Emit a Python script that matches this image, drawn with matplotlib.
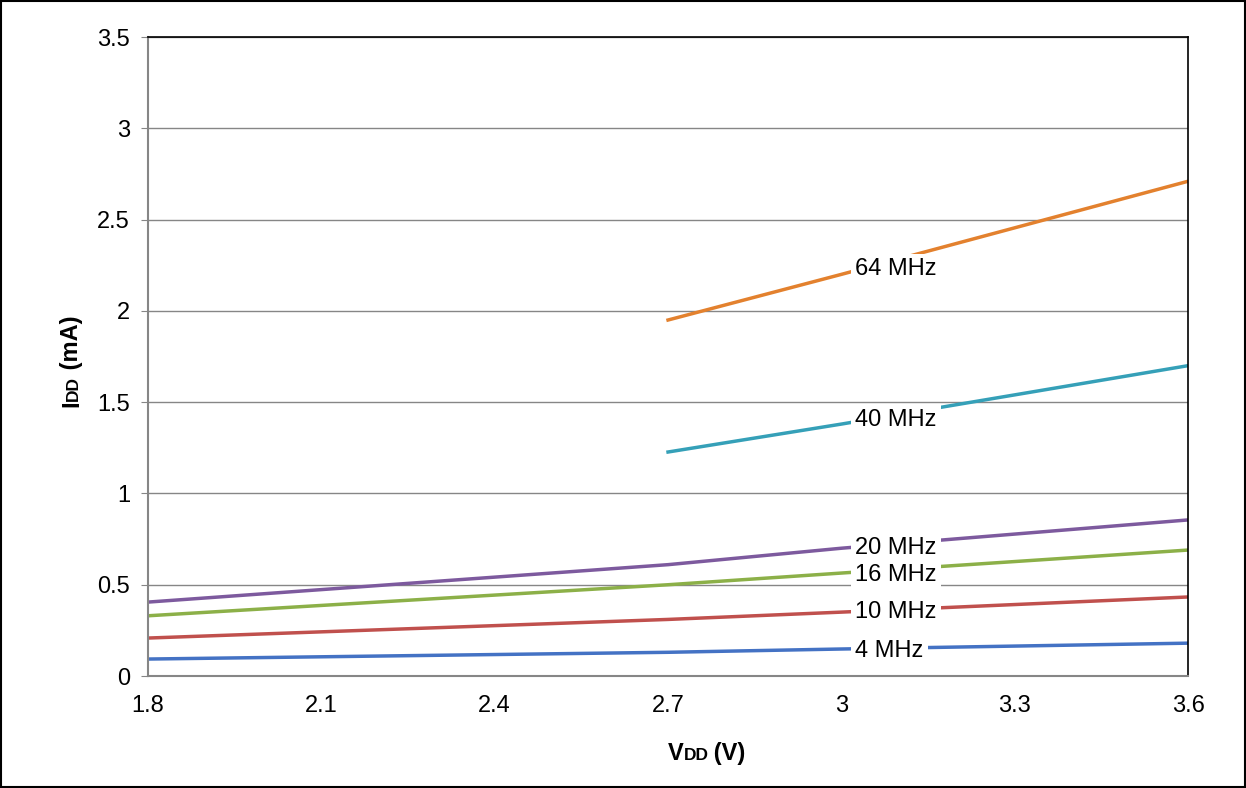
import matplotlib
matplotlib.use("Agg")
import matplotlib.pyplot as plt
from matplotlib.transforms import offset_copy

plt.rcParams['font.family'] = ['Liberation Sans', 'DejaVu Sans']

vdd_full = [1.8, 2.7, 3.0, 3.6]
vdd_high = [2.7, 3.0, 3.6]

idd_4 = [0.093, 0.13, 0.148, 0.18]
idd_10 = [0.208, 0.31, 0.35, 0.433]
idd_16 = [0.33, 0.50, 0.564, 0.69]
idd_20 = [0.405, 0.61, 0.70, 0.855]
idd_40 = [1.227, 1.38, 1.70]
idd_64 = [1.95, 2.20, 2.71]

labels = ["4 MHz", "10 MHz", "16 MHz", "20 MHz", "40 MHz", "64 MHz"]
label_y = [0.137, 0.35, 0.553, 0.70, 1.40, 2.23]

fig = plt.figure(figsize=(12.46, 7.88), dpi=100)
ax = fig.add_axes([0.1188, 0.1421, 0.8347, 0.8109])

ax.plot(vdd_full, idd_4, color="#4472c4", lw=2.5)
ax.plot(vdd_full, idd_10, color="#c0504d", lw=2.5)
ax.plot(vdd_full, idd_16, color="#8cb048", lw=2.5)
ax.plot(vdd_full, idd_20, color="#7d5a9e", lw=2.5)
ax.plot(vdd_high, idd_40, color="#35a0b8", lw=2.5)
ax.plot(vdd_high, idd_64, color="#e3812e", lw=2.5)

for lab, yv in zip(labels, label_y):
    ax.text(3.024, yv, lab, fontsize=17, va="center", ha="left", zorder=5,
            bbox=dict(facecolor="white", edgecolor="none", pad=3))

ax.set_xlim(1.8, 3.6)
ax.set_ylim(0, 3.5)
ax.set_xticks([1.8, 2.1, 2.4, 2.7, 3.0, 3.3, 3.6])
ax.set_xticklabels(["1.8", "2.1", "2.4", "2.7", "3", "3.3", "3.6"])
ax.set_yticks([0, 0.5, 1, 1.5, 2, 2.5, 3, 3.5])
ax.set_yticklabels(["0", "0.5", "1", "1.5", "2", "2.5", "3", "3.5"])
ax.tick_params(labelsize=17, length=0)
ax.tick_params(axis="x", pad=14)
ax.tick_params(axis="y", length=5, color="#868686", direction="out", pad=8)
ax.yaxis.grid(True, color="#868686", lw=1)
ax.set_axisbelow(True)
for s in ["top", "right"]:
    ax.spines[s].set_color("black")
    ax.spines[s].set_linewidth(1.2)
for s in ["left", "bottom"]:
    ax.spines[s].set_color("#868686")
    ax.spines[s].set_linewidth(1.5)

# axis labels with small-caps style "DD"
renderer = fig.canvas.get_renderer()

def label_parts(x, y, parts, rotation):
    trans = fig.transFigure
    for txt, size in parts:
        t = fig.text(x, y, txt, fontsize=size, fontweight="bold", rotation=rotation,
                     rotation_mode="anchor", ha="left", va="baseline", transform=trans)
        bb = t.get_window_extent(renderer)
        if rotation == 0:
            x += bb.width / fig.bbox.width
        else:
            y += bb.height / fig.bbox.height

label_parts(0.536, 0.036, [("V", 17), ("DD", 12.5), ("\u2009(V)", 17)], 0)
label_parts(0.0625, 0.483, [("I", 17), ("DD", 12.5), (" (mA)", 17)], 90)

border = plt.Rectangle((0.001, 0.001), 0.998, 0.998, transform=fig.transFigure,
                       fill=False, edgecolor="black", lw=1.5)
fig.patches.append(border)

fig.savefig("out.png", dpi=100)
